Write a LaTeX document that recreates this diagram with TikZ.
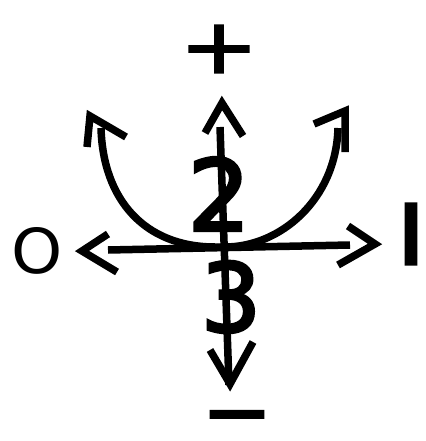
\documentclass[tikz,border=0pt]{standalone}
\usepackage{fontspec}
\usepackage{graphicx}
\newfontfamily\djv{DejaVu Sans}
\newfontfamily\djvdig[FakeBold=3]{DejaVu Sans}
\newfontfamily\djvone[FakeBold=6]{DejaVu Sans}
\newfontfamily\djvplus[FakeBold=2]{DejaVu Sans}
\newfontfamily\djvminus[FakeBold=8]{DejaVu Sans Bold}
\begin{document}
\begin{tikzpicture}[x=1pt,y=-1pt]
\tikzset{
  ax/.style={line width=7.5pt, line cap=butt},
  head/.style={line width=7.5pt, line join=miter, line cap=butt},
  lbl/.style={inner sep=0pt, outer sep=0pt, text=black},
}
\fill[white] (0,0) rectangle (425,441);
\useasboundingbox (0,0) rectangle (425,441);
% labels
\node[lbl, font=\djvplus\fontsize{95}{95}\selectfont] (plus) at (219,49) {\scalebox{1}[0.8]{+}};
\node[lbl, anchor=base, font=\djvminus\fontsize{45}{45}\selectfont] (minus) at (237,428.5) {\scalebox{1.73}[1]{−}};
\node[lbl, font=\djv\fontsize{62}{62}\selectfont] (zero) at (37.5,250.5) {\scalebox{1.05}[1]{O}};
\node[lbl, font=\djvone\fontsize{80}{80}\selectfont] (one) at (411,234) {I};
\node[lbl, font=\djvdig\fontsize{99}{99}\selectfont] (two) at (219,194) {2};
\node[lbl, font=\djvdig\fontsize{95}{95}\selectfont] (three) at (231,297) {3};
% shaft end points
\coordinate (hL) at (108,250);
\coordinate (hR) at (350,245);
\coordinate (vT) at (220,127);
\coordinate (vB) at (229,385);
\coordinate (cL) at (101,128);
\coordinate (cM1) at (215,247);
\coordinate (cM2) at (225,247);
\coordinate (cR) at (338,128);
% arrow apexes
\coordinate (aL) at (82,251);
\coordinate (aR) at (375,244);
\coordinate (aT) at (222,103);
\coordinate (aB) at (230,384);
\coordinate (aCL) at (90,116);
\coordinate (aCR) at (345,111);
% shafts
\draw[ax] (hL) -- (hR);
\draw[ax] (vT) -- (vB);
\draw[ax] (cL) .. controls (103,200) and (145,247) .. (cM1) -- (cM2)
          .. controls (280,247) and (336,200) .. (cR);
% arrowheads
\draw[head] (117,272) -- (aL) -- (108,234);
\draw[head] (348,226) -- (aR) -- (338,265);
\draw[head] (205,133) -- (aT) -- (243,136);
\draw[head] (210,350) -- (aB) -- (253,342);
\draw[head] (87,147) -- (aCL) -- (126,137);
\draw[head] (314,124) -- (aCR) -- (345,152);
\end{tikzpicture}
\end{document}
